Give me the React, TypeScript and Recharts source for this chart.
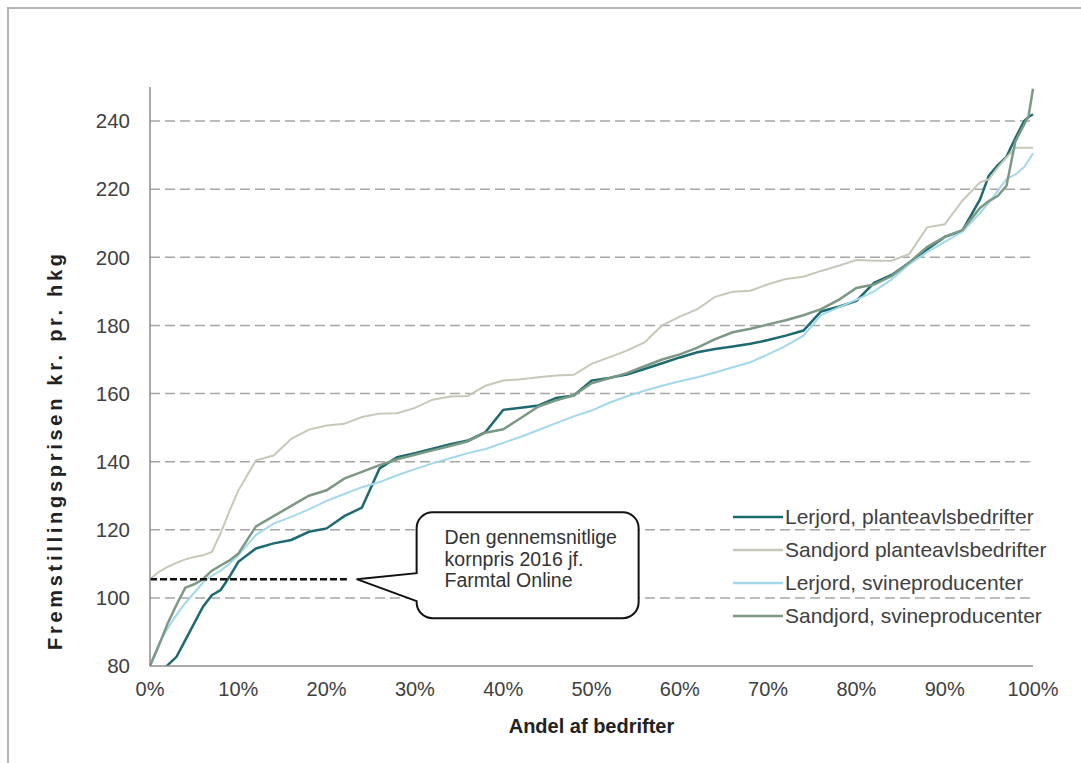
import React from 'react';
import {
  CartesianGrid,
  Legend,
  Line,
  LineChart,
  ReferenceDot,
  ReferenceLine,
  XAxis,
  YAxis,
} from 'recharts';

// andel af bedrifter (%)
const pct = [
  0, 1, 2, 3, 4, 5, 6, 7, 8, 9, 10,
  12, 14, 16, 18, 20, 22, 24, 26, 28, 30,
  32, 34, 36, 38, 40, 42, 44, 46, 48, 50,
  52, 54, 56, 58, 60, 62, 64, 66, 68, 70,
  72, 74, 76, 78, 80, 82, 84, 86, 88, 90,
  92, 94,
  95, 96, 97, 98, 99, 99.5, 100,
];

const lerjordPlante = [
  74, 77, 80.3, 82.7, 87.6, 92.5, 97.4, 100.8, 102.3, 106.2, 110.6,
  114.5, 116, 117, 119.4, 120.4, 124, 126.5, 138, 141.3, 142.5,
  143.8, 145.1, 146.2, 148.7, 155.2, 155.8, 156.5, 158.7, 159.4, 163.8,
  164.6, 165.6, 167.2, 168.9, 170.6, 172.1, 173.1, 173.8, 174.6, 175.7,
  177, 178.5, 184.1, 185.5, 187.2, 192.5, 194.8, 198.5, 202.3, 206,
  207.8, 217,
  224, 227, 229.5, 235, 240, 241.2, 242,
];

const sandjordPlante = [
  105.5, 107.6, 109.1, 110.3, 111.3, 112, 112.5, 113.5, 119, 125.5, 131.5,
  140.4, 141.8, 146.7, 149.4, 150.6, 151.1, 153.1, 154.1, 154.2, 155.8,
  158.2, 159.1, 159.3, 162.3, 163.8, 164.2, 164.8, 165.3, 165.5, 168.7,
  170.6, 172.6, 175, 180, 182.6, 184.8, 188.4, 189.9, 190.2, 192.1,
  193.6, 194.3, 196, 197.5, 199.2, 199, 199, 201, 208.8, 209.7,
  216.6, 222,
  222.9, 226.3, 229.3, 232.2, 232.2, 232.2, 232.2,
];

const lerjordSvine = [
  80.3, 86.5, 91, 95, 98.5, 101.5, 104.5, 106.5, 108, 110, 112.5,
  118.5, 121.8, 123.8, 126, 128.5, 130.5, 132.5, 134, 136, 137.8,
  139.5, 141, 142.5, 143.7, 145.5, 147.3, 149.3, 151.3, 153.3, 155,
  157.3, 159.2, 160.8, 162.3, 163.6, 164.8, 166.2, 167.7, 169.2, 171.5,
  174, 177, 183, 185.3, 187.5, 190, 193.5, 198, 201.5, 204.5,
  207.5, 213,
  216, 219.5, 223, 224.3, 226.5, 228.5, 230.5,
];

const sandjordSvine = [
  80, 86, 92.5, 98, 103, 104, 105.5, 108, 109.5, 111, 113,
  121, 124, 127, 130, 131.6, 135, 137, 139, 140.7, 142,
  143.3, 144.6, 146, 148.5, 149.5, 152.8, 156.2, 158, 159.5, 163,
  164.5, 166, 168, 170, 171.5, 173.5, 176, 178, 179, 180.3,
  181.5, 183, 184.8, 187.5, 191, 192, 194.5, 198.5, 203, 206,
  208, 214.5,
  216.5, 218, 221, 234, 239, 241.5, 249.5,
];

const seriesNames = [
  'Lerjord, planteavlsbedrifter',
  'Sandjord planteavlsbedrifter',
  'Lerjord, svineproducenter',
  'Sandjord, svineproducenter',
];

const yDomain = [80, 250];
const yTicks = [80, 100, 120, 140, 160, 180, 200, 220, 240];
const xTicks = [0, 10, 20, 30, 40, 50, 60, 70, 80, 90, 100];

// gennemsnitlig kornpris 2016
const kornpris = 105.5;
const calloutLines = ['Den gennemsnitlige', 'kornpris 2016 jf.', 'Farmtal Online'];

const rows = pct.map((x, i) => ({
  x,
  lp: lerjordPlante[i],
  sp: sandjordPlante[i],
  ls: lerjordSvine[i],
  ss: sandjordSvine[i],
}));

const FONT = '"Liberation Sans", Arial, sans-serif';
const TEXT = '#404040';

const lines = [
  { key: 'lp', color: '#1d6a72', width: 2.5 },
  { key: 'sp', color: '#c5c9b8', width: 2 },
  { key: 'ls', color: '#a3d8ec', width: 2 },
  { key: 'ss', color: '#7b9985', width: 2.5 },
];

// gridlines only at the labelled ticks above the x axis
function gridRows({ offset }: any) {
  const [lo, hi] = yDomain;
  return yTicks
    .filter((v) => v > lo)
    .map((v) => offset.top + (offset.height * (hi - v)) / (hi - lo));
}

function Callout({ cx, cy }: { cx: number; cy: number }) {
  const L = cx + 60;
  const R = cx + 282;
  const T = cy - 67;
  const B = cy + 39;
  const r = 16;
  const d = [
    `M${L + r},${T}`,
    `H${R - r}`,
    `A${r},${r} 0 0 1 ${R},${T + r}`,
    `V${B - r}`,
    `A${r},${r} 0 0 1 ${R - r},${B}`,
    `H${L + r}`,
    `A${r},${r} 0 0 1 ${L},${B - r}`,
    `V${cy + 22}`,
    `L${cx},${cy}`,
    `L${L},${cy - 6}`,
    `V${T + r}`,
    `A${r},${r} 0 0 1 ${L + r},${T}`,
    'Z',
  ].join(' ');
  return (
    <g>
      <path d={d} fill="#fff" stroke="#111" strokeWidth={2} />
      {calloutLines.map((t, i) => (
        <text
          key={t}
          x={L + 28}
          y={cy - 35 + i * 21.5}
          fontSize={19.5}
          fontFamily={FONT}
          fill="#333"
        >
          {t}
        </text>
      ))}
    </g>
  );
}

function LegendBox({ payload }: any) {
  const items = [...(payload || [])].sort(
    (a: any, b: any) => seriesNames.indexOf(a.value) - seriesNames.indexOf(b.value),
  );
  return (
    <div style={{ fontFamily: FONT }}>
      {items.map((entry: any) => (
        <div
          key={entry.value}
          style={{ display: 'flex', alignItems: 'center', height: 33 }}
        >
          <svg width={52} height={10}>
            <line x1={0} y1={5} x2={50} y2={5} stroke={entry.color} strokeWidth={2.5} />
          </svg>
          <span style={{ fontSize: 21, color: TEXT, whiteSpace: 'nowrap' }}>{entry.value}</span>
        </div>
      ))}
    </div>
  );
}

function YTitle() {
  const x = 62;
  const y = 452;
  return (
    <text
      x={x}
      y={y}
      transform={`rotate(-90 ${x} ${y})`}
      textAnchor="middle"
      fontSize={20}
      fontWeight="bold"
      fontFamily={FONT}
      fill="#222"
      textLength={396}
      lengthAdjust="spacing"
    >
      Fremstillingsprisen  kr. pr. hkg
    </text>
  );
}

export default function App() {
  return (
    <div
      style={{
        position: 'absolute',
        left: 0,
        top: 0,
        width: 1081,
        height: 763,
        background: '#fff',
        fontFamily: FONT,
      }}
    >
      <div
        style={{
          position: 'absolute',
          left: 7,
          top: 7,
          width: 1074,
          height: 756,
          borderTop: '2px solid #b4b4b4',
          borderLeft: '2px solid #b4b4b4',
        }}
      />
      <LineChart
        width={1081}
        height={763}
        data={rows}
        margin={{ top: 87, right: 48, left: 90, bottom: 27 }}
      >
        <CartesianGrid
          vertical={false}
          stroke="#a6a6a6"
          strokeDasharray="10 5"
          strokeWidth={1.5}
          horizontalCoordinatesGenerator={gridRows}
        />
        <XAxis
          type="number"
          dataKey="x"
          domain={[0, 100]}
          ticks={xTicks}
          tickFormatter={(v) => `${v}%`}
          tick={{ fill: TEXT, fontSize: 20 }}
          tickLine={false}
          tickMargin={10}
          axisLine={{ stroke: '#8c8c8c', strokeWidth: 1.5 }}
          height={70}
          label={{
            value: 'Andel af bedrifter',
            position: 'insideBottom',
            offset: 3,
            style: { fill: '#222', fontSize: 20, fontWeight: 'bold' },
          }}
        />
        <YAxis
          domain={yDomain}
          ticks={yTicks}
          allowDataOverflow
          tick={{ fill: TEXT, fontSize: 20.5 }}
          tickLine={false}
          tickMargin={14}
          axisLine={{ stroke: '#8c8c8c', strokeWidth: 1.5 }}
          width={60}
          label={{ content: <YTitle /> }}
        />
        {lines.map((l, i) => (
          <Line
            key={l.key}
            type="linear"
            dataKey={l.key}
            name={seriesNames[i]}
            stroke={l.color}
            strokeWidth={l.width}
            dot={false}
            activeDot={false}
            isAnimationActive={false}
          />
        ))}
        <ReferenceLine
          segment={[
            { x: 0, y: kornpris },
            { x: 22.3, y: kornpris },
          ]}
          stroke="#111"
          strokeWidth={2.5}
          strokeDasharray="7 3"
        />
        <ReferenceDot
          x={23.4}
          y={kornpris}
          r={1}
          shape={(p: any) => <Callout cx={p.cx} cy={p.cy} />}
        />
        <Legend
          layout="vertical"
          align="center"
          verticalAlign="middle"
          content={<LegendBox />}
          wrapperStyle={{ left: 733, top: 500, width: 345 }}
        />
      </LineChart>
    </div>
  );
}
